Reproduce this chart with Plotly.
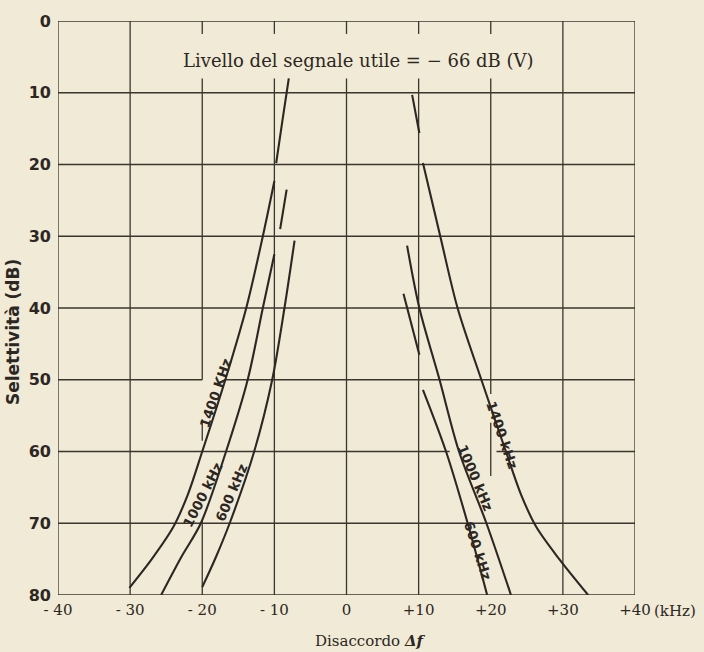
import plotly.graph_objects as go

# Selectivity curves (dB) vs. detuning (kHz) for three carrier frequencies.
# None splits a curve where the pen stroke is interrupted.
df_1400_neg = [-8.0, -8.9, -9.75, None, -10.0, -11.6, -13.9, -16.8, -20.0, -22.0, -24.0, -27.0, -30.1]
db_1400_neg = [8.0, 14.0, 19.8, None, 22.3, 30.0, 40.0, 50.0, 60.0, 66.0, 70.5, 75.0, 79.0]

df_1000_neg = [-8.3, -9.2, None, -10.0, -11.6, -13.7, -16.7, -20.2, -22.9, -25.7]
db_1000_neg = [23.5, 29.0, None, 32.5, 40.0, 50.0, 60.0, 70.0, 74.7, 80.0]

df_600_neg = [-7.2, -8.6, -10.3, -12.8, -16.2, -18.1, -20.0]
db_600_neg = [30.6, 40.0, 50.0, 60.0, 70.0, 74.7, 78.9]

df_1400_pos = [9.1, 10.1, None, 10.6, 13.0, 15.4, 18.7, 22.1, 24.2, 26.3, 29.5, 33.5]
db_1400_pos = [10.3, 15.6, None, 19.8, 30.0, 40.0, 50.0, 60.0, 66.0, 70.5, 75.0, 80.0]

df_1000_pos = [8.4, 10.1, 12.9, 15.6, 19.4, 22.8]
db_1000_pos = [31.3, 40.0, 50.0, 60.0, 70.0, 80.0]

df_600_pos = [7.9, 10.1, None, 10.6, 13.8, 16.8, 19.5]
db_600_pos = [38.0, 46.5, None, 51.4, 60.0, 70.0, 80.0]

x_ticks = [-40, -30, -20, -10, 0, 10, 20, 30, 40]
x_tick_text = ["- 40", "- 30", "- 20", "- 10", "0", "+10", "+20", "+30", "+40"]
y_ticks = [0, 10, 20, 30, 40, 50, 60, 70, 80]

curve_labels = ["1400 KHz", "1000 kHz", "600 kHz", "1400 kHz", "1000 kHz", "600 kHz"]
label_x = [-18.2, -20.0, -15.9, 21.6, 17.9, 18.3]
label_y = [51.8, 66.0, 65.7, 57.7, 63.7, 73.8]
label_angle = [-71, -63, -67, 71, 67, 72]

# Grid-line runs (the ruling is interrupted in places on the sheet)
v_runs = {
    -40: [(0, 80)], -30: [(0, 80)],
    -20: [(0, 1.8), (8, 50), (55.5, 58.5), (69.5, 80)],
    -10: [(0, 1.8), (8, 80)], 0: [(0, 1.8), (8, 80)], 10: [(0, 1.8), (8, 80)],
    20: [(0, 1.8), (8, 52), (56, 63.4)],
    30: [(0, 80)], 40: [(0, 80)],
}
h_runs = {
    0: [(-40, 40)], 10: [(-40, 40)], 20: [(-40, 40)], 30: [(-40, 40)], 40: [(-40, 40)],
    50: [(-40, -20), (-16.8, 40)],
    60: [(-40, 14.3), (20.8, 40)],
    70: [(-40, 40)], 80: [(-40, 40)],
}

PAPER = "#f0ead6"
INK = "#2c2722"
GRID = "#3b352f"

fig = go.Figure()

gx, gy = [], []
for xv, runs in v_runs.items():
    for a, b in runs:
        gx += [xv, xv, None]
        gy += [a, b, None]
for yv, runs in h_runs.items():
    for a, b in runs:
        gx += [a, b, None]
        gy += [yv, yv, None]
fig.add_trace(go.Scatter(x=gx, y=gy, mode="lines", line=dict(color=GRID, width=1.3),
                         hoverinfo="skip", showlegend=False))

for xs, ys in [(df_1400_neg, db_1400_neg), (df_1000_neg, db_1000_neg), (df_600_neg, db_600_neg),
               (df_1400_pos, db_1400_pos), (df_1000_pos, db_1000_pos), (df_600_pos, db_600_pos)]:
    fig.add_trace(go.Scatter(x=xs, y=ys, mode="lines",
                             line=dict(color=INK, width=2.1, shape="spline", smoothing=0.9),
                             connectgaps=False, showlegend=False))

for t, lx, ly, ang in zip(curve_labels, label_x, label_y, label_angle):
    fig.add_annotation(x=lx, y=ly, text=t, textangle=ang, showarrow=False,
                       xanchor="center", yanchor="middle",
                       font=dict(family="DejaVu Sans", size=13.5, color=INK, weight="bold"))

fig.add_annotation(x=1.7, y=5.5, text="Livello del segnale utile = − 66 dB (V)",
                   showarrow=False, xanchor="center", yanchor="middle",
                   font=dict(family="DejaVu Serif", size=18, color=INK))

fig.add_annotation(x=1.0295, y=-0.028, xref="paper", yref="paper", text="(kHz)",
                   showarrow=False, xanchor="left", yanchor="middle",
                   font=dict(family="DejaVu Serif", size=15, color=INK))

fig.add_annotation(x=0.541, y=-0.081, xref="paper", yref="paper",
                   text="Disaccordo <b><i>Δf</i></b>",
                   showarrow=False, xanchor="center", yanchor="middle",
                   font=dict(family="DejaVu Serif", size=15, color=INK))

fig.add_annotation(x=-0.078, y=0.458, xref="paper", yref="paper",
                   text="Selettività (dB)", textangle=-90,
                   showarrow=False, xanchor="center", yanchor="middle",
                   font=dict(family="DejaVu Sans", size=17, color=INK, weight="bold"))

fig.update_xaxes(range=[-40, 40], tickvals=x_ticks, ticktext=x_tick_text,
                 showgrid=False, zeroline=False, showline=False, ticks="",
                 ticklabelstandoff=4,
                 tickfont=dict(family="DejaVu Serif", size=15, color=INK))
fig.update_yaxes(range=[80, 0], tickvals=y_ticks, showgrid=False, zeroline=False,
                 showline=False, ticks="", ticklabelstandoff=6,
                 tickfont=dict(family="DejaVu Sans", size=16, color=INK, weight="bold"))

fig.update_layout(width=704, height=652,
                  margin=dict(l=58, r=69, t=17, b=57),
                  paper_bgcolor=PAPER, plot_bgcolor=PAPER,
                  showlegend=False)

fig.write_html("out.html")
